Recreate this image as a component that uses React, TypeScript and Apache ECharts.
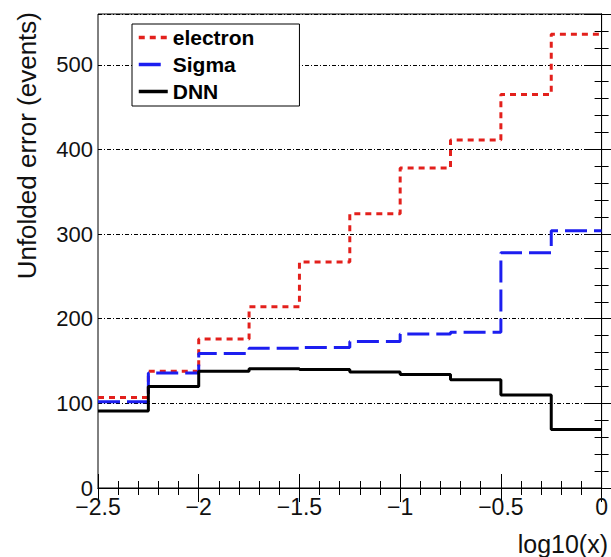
import React, { useEffect, useRef } from "react";
import * as echarts from "echarts";

const binEdges = [-2.5, -2.25, -2, -1.75, -1.5, -1.25, -1, -0.75, -0.5, -0.25, 0];
const electron = [107, 138, 176, 214, 267, 324, 378, 411, 465, 536];
const sigma = [102, 136, 159, 165, 166, 173, 182, 184, 278, 304];
const dnn = [91, 120, 138, 141, 140, 137, 134, 128, 110, 69];
const seriesNames = ["electron", "Sigma", "DNN"];
const xRange = [-2.5, 0];
const yRange = [0, 560];

const FONT = "'Liberation Sans', Arial, Helvetica, sans-serif";

function toSteps(vals: number[]) {
  return binEdges.map((e, i) => [e, vals[Math.min(i, vals.length - 1)]]);
}

function fmtX(v: number) {
  const s = String(Math.round(v * 100) / 100);
  return s.replace("-", "\u2212");
}

export default function App() {
  const ref = useRef<HTMLDivElement>(null);
  useEffect(() => {
    if (!ref.current) return;
    const chart = echarts.init(ref.current, undefined, { renderer: "svg" });
    const axisLine = { show: true, lineStyle: { color: "#000", width: 1 } };
    const xCommon = {
      type: "value" as const,
      min: xRange[0],
      max: xRange[1],
      interval: 0.5,
      axisLine,
      axisTick: { show: true, inside: true, length: 14, lineStyle: { color: "#000", width: 1 } },
      minorTick: { show: true, splitNumber: 5, length: 7, lineStyle: { color: "#000", width: 1 } },
      splitLine: { show: false },
    };
    const yCommon = {
      type: "value" as const,
      min: yRange[0],
      max: yRange[1],
      interval: 100,
      axisLine,
      axisTick: { show: true, inside: true, length: 14, lineStyle: { color: "#000", width: 1 } },
      minorTick: { show: true, splitNumber: 5, length: 7, lineStyle: { color: "#000", width: 1 } },
    };
    const styles = [
      { color: "#e3201c", type: [6, 5] as number[] },
      { color: "#1c1ef0", type: [22, 7] as number[] },
      { color: "#000000", type: "solid" as any },
    ];
    const datas = [electron, sigma, dnn];
    chart.setOption({
      animation: false,
      backgroundColor: "#fff",
      grid: { left: 98, right: 5, top: 14, bottom: 69, show: true, borderColor: "#000", borderWidth: 1, backgroundColor: "transparent" },
      xAxis: [
        {
          ...xCommon,
          position: "bottom",
          axisLabel: { show: true, fontSize: 23, color: "#111", fontFamily: FONT, margin: 7, formatter: fmtX },
        },
        { ...xCommon, position: "top", axisLabel: { show: false } },
      ],
      yAxis: [
        {
          ...yCommon,
          position: "left",
          axisLabel: { show: true, fontSize: 22, color: "#111", fontFamily: FONT, margin: 5, showMaxLabel: false },
          splitLine: { show: true, lineStyle: { color: "#000", width: 1, type: [4, 2, 1, 2] } },
        },
        { ...yCommon, position: "right", axisLabel: { show: false }, splitLine: { show: false } },
      ],
      legend: {
        orient: "vertical",
        left: 132,
        top: 24,
        data: seriesNames,
        itemWidth: 29,
        itemHeight: 2,
        itemGap: 6,
        padding: [3, 45, 4, 5],
        backgroundColor: "#fff",
        borderColor: "#000",
        borderWidth: 1,
        borderRadius: 0,
        itemStyle: { opacity: 0, borderWidth: 0 },
        lineStyle: { width: 3.5 },
        textStyle: { fontSize: 21, fontWeight: "bold", fontFamily: FONT, color: "#000", lineHeight: 21, padding: [0, 0, 0, 0] },
      },
      graphic: [
        {
          type: "text",
          x: 27,
          y: 12,
          rotation: Math.PI / 2,
          style: { text: "Unfolded error (events)", font: `26px ${FONT}`, fill: "#111", textAlign: "right", textVerticalAlign: "middle" },
        },
        {
          type: "text",
          x: 608,
          y: 544,
          style: { text: "log10(x)", font: `25px ${FONT}`, fill: "#111", textAlign: "right", textVerticalAlign: "middle" },
        },
      ],
      series: seriesNames.map((name, i) => ({
        name,
        type: "line",
        step: "end",
        xAxisIndex: 0,
        yAxisIndex: 0,
        symbol: "none",
        showSymbol: false,
        data: toSteps(datas[i]),
        lineStyle: { color: styles[i].color, width: 3, type: styles[i].type },
        itemStyle: { color: styles[i].color },
        z: 3,
      })),
    });
    return () => chart.dispose();
  }, []);
  return <div ref={ref} style={{ position: "absolute", left: 0, top: 0, width: 611, height: 557 }} />;
}
